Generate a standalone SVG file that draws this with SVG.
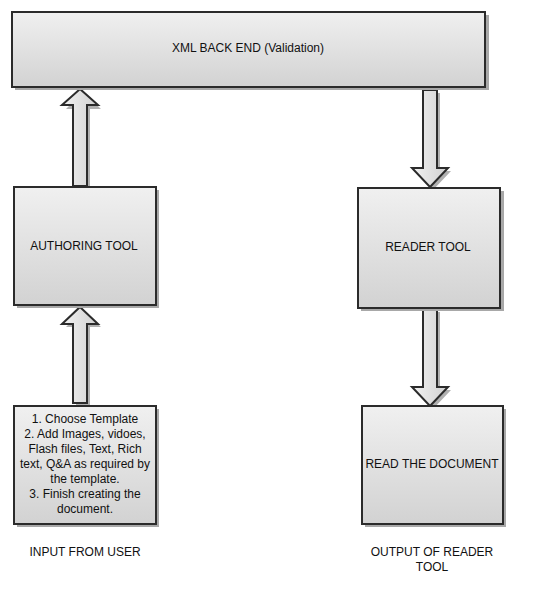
<svg xmlns="http://www.w3.org/2000/svg" width="538" height="592" viewBox="0 0 538 592">
<defs>
<linearGradient id="g" x1="0" y1="0" x2="0" y2="1">
<stop offset="0" stop-color="#f0f0f0"/>
<stop offset="1" stop-color="#d2d2d2"/>
</linearGradient>
<linearGradient id="ga" x1="0" y1="0" x2="1" y2="0">
<stop offset="0" stop-color="#f2f2f2"/>
<stop offset="1" stop-color="#d0d0d0"/>
</linearGradient>
</defs>
<style>
.box{fill:url(#g);stroke:#2b2b2b;stroke-width:2}
.sh{fill:#a8a8a8}
.arr{fill:url(#ga);stroke:#2b2b2b;stroke-width:2;stroke-linejoin:miter}
.ash{fill:#b0b0b0}
text{font-family:"Liberation Sans",Arial,sans-serif;font-size:12px;fill:#111;text-anchor:middle}
</style>
<rect width="538" height="592" fill="#fff"/>
<g id="connectors">
<path class="ash" d="M83 92 L101 109 L90 109 L90 189 L76 189 L76 109 L66 109 Z"/>
<path class="arr" d="M80 89 L98 105 L87 105 L87 186 L73 186 L73 105 L62 105 Z"/>
<path class="ash" d="M426 93 L440 93 L440 171 L451 171 L433 190 L415 171 L426 171 Z"/>
<path class="arr" d="M423 90 L437 90 L437 168 L448 168 L430 187 L412 168 L423 168 Z"/>
<path class="ash" d="M83 310 L101 327 L90 327 L90 406 L76 406 L76 327 L66 327 Z"/>
<path class="arr" d="M80 307 L98 324 L87 324 L87 403 L73 403 L73 324 L62 324 Z"/>
<path class="ash" d="M426 312 L440 312 L440 390 L451 390 L433 409 L415 390 L426 390 Z"/>
<path class="arr" d="M423 309 L437 309 L437 387 L448 387 L430 406 L412 387 L423 387 Z"/>
</g>
<g id="xml">
<rect class="sh" x="15" y="15" width="474" height="75"/>
<rect class="box" x="12" y="12" width="473" height="75"/>
<text x="248" y="52">XML BACK END (Validation)</text>
</g>
<g id="authoring">
<rect class="sh" x="17" y="190" width="142" height="118"/>
<rect class="box" x="14" y="187" width="142" height="118"/>
<text x="84" y="250">AUTHORING TOOL</text>
</g>
<g id="reader">
<rect class="sh" x="361" y="191" width="143" height="120"/>
<rect class="box" x="358" y="188" width="142" height="120"/>
<text x="428" y="251">READER TOOL</text>
</g>
<g id="input">
<rect class="sh" x="17" y="409" width="142" height="118"/>
<rect class="box" x="14" y="406" width="142" height="118"/>
<text x="85" y="423">1. Choose Template</text>
<text x="85" y="438">2. Add Images, vidoes,</text>
<text x="85" y="453">Flash files, Text, Rich</text>
<text x="85" y="468">text, Q&amp;A as required by</text>
<text x="85" y="483">the template.</text>
<text x="85" y="498">3. Finish creating the</text>
<text x="85" y="513">document.</text>
</g>
<g id="readdoc">
<rect class="sh" x="365" y="409" width="141" height="118"/>
<rect class="box" x="362" y="406" width="141" height="118"/>
<text x="432" y="468">READ THE DOCUMENT</text>
</g>
<g id="label-input">
<text x="85" y="556">INPUT FROM USER</text>
</g>
<g id="label-output">
<text x="432" y="556">OUTPUT OF READER</text>
<text x="432" y="571">TOOL</text>
</g>
</svg>
